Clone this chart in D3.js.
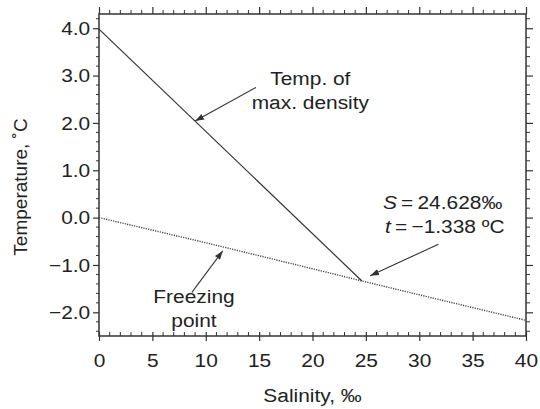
<!DOCTYPE html>
<html>
<head>
<meta charset="utf-8">
<script src="https://cdn.jsdelivr.net/npm/d3@7"></script>
<style>
  body { margin: 0; background: #fff; }
  text { font-family: "Liberation Sans", Arial, sans-serif; fill: #222; }
</style>
</head>
<body>
<div id="container"></div>
<script>
/* CONSTANTS AND GLOBALS */
const width = 540;
const height = 409;
const margin = { top: 14, right: 14, bottom: 73, left: 99 };
const stretch = "scale(1.1,1)"; // the source type is a bit wide

/* DATA */
const xTicks = [0, 5, 10, 15, 20, 25, 30, 35, 40];
const yTicks = [-2, -1, 0, 1, 2, 3, 4];
const yTickLabels = ["\u22122.0", "\u22121.0", "0.0", "1.0", "2.0", "3.0", "4.0"];

// temperature of maximum density (solid)
const maxDensityS = [0, 24.628];
const maxDensityT = [3.98, -1.338];

// freezing point (dotted)
const freezeS = [0, 10, 20, 24.628, 30, 40];
const freezeT = [0, -0.53, -1.08, -1.338, -1.63, -2.17];

const xLabel = "Salinity, \u2030";
const yLabel = "Temperature, \u02DAC";

/* HTML ELEMENTS */
const svg = d3.select("#container")
  .append("svg")
  .attr("width", width)
  .attr("height", height);

/* SCALES */
const xScale = d3.scaleLinear()
  .domain([0, 40])
  .range([margin.left, width - margin.right]);

const yScale = d3.scaleLinear()
  .domain([-2.5, 4.3])
  .range([height - margin.bottom, margin.top]);

const x0 = xScale.range()[0], x1 = xScale.range()[1];
const y0 = yScale.range()[0], y1 = yScale.range()[1];

const xMinor = d3.range(0, 41, 1).filter(d => d % 5 !== 0);
const yMinor = d3.range(-24, 43, 2).map(d => d / 10).filter(d => Math.abs(d * 10) % 10 !== 0);

/* AXES */
const axisColor = "#333";

// bottom: labelled
const xAxis = d3.axisBottom(xScale)
  .tickValues(xTicks)
  .tickSize(5)
  .tickPadding(13)
  .tickFormat(d3.format("d"));

const gx = svg.append("g")
  .attr("transform", `translate(0, ${y0})`)
  .call(xAxis);

// left: labelled
const yAxis = d3.axisLeft(yScale)
  .tickValues(yTicks)
  .tickSize(6)
  .tickPadding(2)
  .tickFormat((d, i) => yTickLabels[i]);

const gy = svg.append("g")
  .attr("transform", `translate(${x0}, 0)`)
  .call(yAxis);

[gx, gy].forEach(g => {
  g.select(".domain").remove();
  g.selectAll("line").attr("stroke", axisColor).attr("stroke-width", 1.2);
  g.selectAll("text")
    .style("font-size", "19px")
    .attr("fill", "#222")
    .attr("transform", stretch);
});

// major ticks on bottom cross the frame
gx.selectAll(".tick line").attr("y1", -4).attr("y2", 5);

// minor ticks
const minor = svg.append("g")
  .attr("stroke", axisColor)
  .attr("stroke-width", 1);

// bottom minor (inward)
minor.selectAll("line.bm")
  .data(xMinor)
  .join("line")
  .attr("class", "bm")
  .attr("x1", d => xScale(d)).attr("x2", d => xScale(d))
  .attr("y1", y0).attr("y2", y0 - 4);

// top ticks (outward)
const xTop = d3.axisTop(xScale).tickValues(xTicks).tickSize(7).tickFormat("");
const gt = svg.append("g").attr("transform", `translate(0, ${y1})`).call(xTop);
gt.select(".domain").remove();
gt.selectAll("line").attr("stroke", axisColor).attr("stroke-width", 1.2);

minor.selectAll("line.tm")
  .data(xMinor)
  .join("line")
  .attr("class", "tm")
  .attr("x1", d => xScale(d)).attr("x2", d => xScale(d))
  .attr("y1", y1).attr("y2", y1 - 4);

// left minor (outward)
minor.selectAll("line.lm")
  .data(yMinor)
  .join("line")
  .attr("class", "lm")
  .attr("x1", x0).attr("x2", x0 - 3)
  .attr("y1", d => yScale(d)).attr("y2", d => yScale(d));

// right ticks (outward)
const yRight = d3.axisRight(yScale).tickValues(yTicks).tickSize(7).tickFormat("");
const gr = svg.append("g").attr("transform", `translate(${x1}, 0)`).call(yRight);
gr.select(".domain").remove();
gr.selectAll("line").attr("stroke", axisColor).attr("stroke-width", 1.2);

minor.selectAll("line.rm")
  .data(yMinor)
  .join("line")
  .attr("class", "rm")
  .attr("x1", x1).attr("x2", x1 + 4)
  .attr("y1", d => yScale(d)).attr("y2", d => yScale(d));

// frame
svg.append("rect")
  .attr("x", x0).attr("y", y1)
  .attr("width", x1 - x0).attr("height", y0 - y1)
  .attr("fill", "none")
  .attr("stroke", axisColor)
  .attr("stroke-width", 1.5);

/* helper: horizontal text, widened a little */
function label(x, y, anchor) {
  return svg.append("text")
    .attr("transform", `translate(${x}, ${y}) ${stretch}`)
    .attr("text-anchor", anchor)
    .style("font-size", "19px");
}

/* AXIS TITLES */
label((x0 + x1) / 2, 402, "middle").text(xLabel);

svg.append("text")
  .attr("transform", `translate(27, ${(y0 + y1) / 2 + 12}) rotate(-90)`)
  .attr("text-anchor", "middle")
  .style("font-size", "19px")
  .text(yLabel);

/* LINES */
const line = d3.line()
  .x(d => xScale(d[0]))
  .y(d => yScale(d[1]));

svg.append("path")
  .datum(d3.zip(maxDensityS, maxDensityT))
  .attr("d", line)
  .attr("fill", "none")
  .attr("stroke", "#333")
  .attr("stroke-width", 1.2);

svg.append("path")
  .datum(d3.zip(freezeS, freezeT))
  .attr("d", line)
  .attr("fill", "none")
  .attr("stroke", "#444")
  .attr("stroke-width", 1.4)
  .attr("stroke-dasharray", "1.2,1.2");

/* ANNOTATIONS */
svg.append("defs").append("marker")
  .attr("id", "arrow")
  .attr("viewBox", "0 0 10 10")
  .attr("refX", 10).attr("refY", 5)
  .attr("markerWidth", 9).attr("markerHeight", 9)
  .attr("markerUnits", "userSpaceOnUse")
  .attr("orient", "auto")
  .append("path")
  .attr("d", "M0,1.5 L10,5 L0,8.5 Z")
  .attr("fill", "#333");

// arrows: [from S, from T, to S, to T]
const arrows = [
  [14.7, 2.75, 9.0, 2.04],
  [8.7, -1.58, 11.6, -0.70],
  [31.8, -0.56, 25.4, -1.23]
];

svg.selectAll("line.arrow")
  .data(arrows)
  .join("line")
  .attr("class", "arrow")
  .attr("x1", d => xScale(d[0])).attr("y1", d => yScale(d[1]))
  .attr("x2", d => xScale(d[2])).attr("y2", d => yScale(d[3]))
  .attr("stroke", "#333")
  .attr("stroke-width", 1.1)
  .attr("marker-end", "url(#arrow)");

label(xScale(19.8), yScale(2.80), "middle").text("Temp. of");
label(xScale(19.8), yScale(2.30), "middle").text("max. density");

label(xScale(8.9), yScale(-1.80), "middle").text("Freezing");
label(xScale(8.9), yScale(-2.32), "middle").text("point");

const s1 = label(xScale(26.6), yScale(0.19), "start");
s1.append("tspan").style("font-style", "italic").text("S");
s1.append("tspan").text("\u2009=\u200924.628\u2030");

const s2 = label(xScale(26.8), yScale(-0.32), "start");
s2.append("tspan").style("font-style", "italic").text("t");
s2.append("tspan").text("\u2009=\u2009\u22121.338 \u00BAC");
</script>
</body>
</html>
